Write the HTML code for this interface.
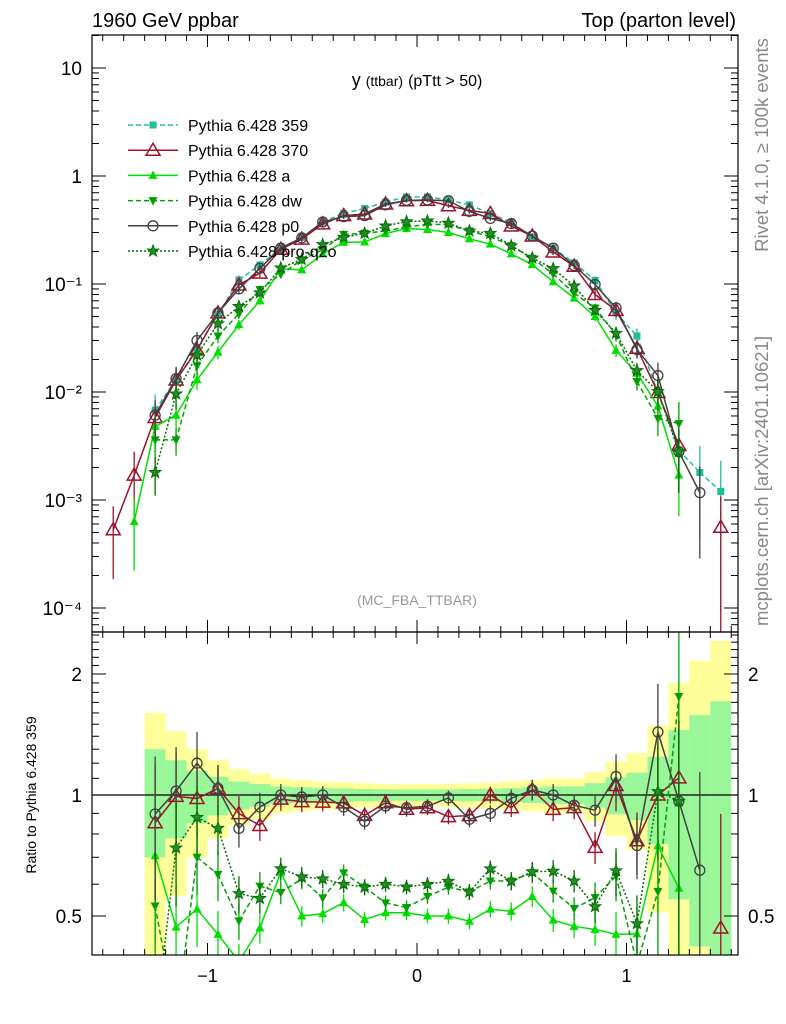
<!DOCTYPE html>
<html><head><meta charset="utf-8"><style>
html,body{margin:0;padding:0;background:#fff;width:786px;height:1024px;overflow:hidden}
svg{display:block;font-family:"Liberation Sans",sans-serif}
</style></head><body>
<svg id="c" width="786" height="1024" viewBox="0 0 786 1024">
<text x="92" y="27" font-size="20">1960 GeV ppbar</text>
<text x="736" y="27" font-size="20" text-anchor="end">Top (parton level)</text>
<text x="417" y="86" font-size="18" text-anchor="middle">y <tspan font-size="14">(ttbar)</tspan> <tspan font-size="16">(pTtt &gt; 50)</tspan></text>
<text x="417" y="605" font-size="14" fill="#999" text-anchor="middle">(MC_FBA_TTBAR)</text>
<text transform="translate(768,145) rotate(-90)" font-size="18.5" fill="#888" text-anchor="middle">Rivet 4.1.0, ≥ 100k events</text>
<text transform="translate(768,481) rotate(-90)" font-size="18.5" fill="#888" text-anchor="middle">mcplots.cern.ch [arXiv:2401.10621]</text>
<text transform="translate(36,795) rotate(-90)" font-size="14" text-anchor="middle">Ratio to Pythia 6.428 359</text>
<g id="bands"></g>
<g id="ticks"></g>
<line x1="92" y1="795" x2="738" y2="795" stroke="#000" stroke-width="1.2"/>
<g id="mainSeries"></g>
<g id="ratioSeries"></g>
<rect x="92" y="35" width="646" height="597" fill="none" stroke="#000" stroke-width="1.2"/>
<rect x="92" y="632" width="646" height="323" fill="none" stroke="#000" stroke-width="1.2"/>
<g id="legend"></g>
</svg>
<script>
const binCenters=[-1.45,-1.35,-1.25,-1.15,-1.05,-0.95,-0.85,-0.75,-0.65,-0.55,-0.45,-0.35,-0.25,-0.15,-0.05,0.05,0.15,0.25,0.35,0.45,0.55,0.65,0.75,0.85,0.95,1.05,1.15,1.25,1.35,1.45];
const ref359=[null,null,0.0068,0.013,0.025,0.052,0.109,0.15,0.215,0.27,0.375,0.45,0.50,0.575,0.64,0.64,0.60,0.54,0.45,0.37,0.27,0.215,0.157,0.108,0.054,0.033,0.0099,0.0029,0.0018,0.0012];
const refRelErr=[0.5,0.5,0.30,0.22,0.15,0.11,0.08,0.065,0.05,0.045,0.04,0.038,0.035,0.033,0.032,0.032,0.033,0.035,0.037,0.04,0.045,0.05,0.05,0.07,0.105,0.135,0.245,0.45,0.58,0.71];
const s370=[0.00053,0.0017,0.0058,0.0129,0.0245,0.054,0.098,0.126,0.21,0.26,0.36,0.43,0.445,0.55,0.59,0.595,0.53,0.48,0.45,0.344,0.278,0.198,0.146,0.080,0.057,0.0254,0.0099,0.0032,null,0.00056];
const sA=[null,0.00063,0.0048,0.0061,0.013,0.0234,0.042,0.070,0.138,0.135,0.19,0.243,0.245,0.293,0.326,0.32,0.30,0.262,0.234,0.19,0.151,0.105,0.074,0.050,0.0243,0.0149,0.0074,0.0017,null,null];
const sDw=[null,null,0.0036,0.0036,0.0175,0.033,0.053,0.089,0.123,0.167,0.208,0.288,0.295,0.31,0.336,0.358,0.354,0.31,0.275,0.226,0.173,0.124,0.082,0.060,0.034,0.0125,0.0057,0.0051,null,null];
const sP0=[null,null,0.0061,0.0133,0.030,0.054,0.090,0.14,0.215,0.267,0.375,0.42,0.43,0.54,0.595,0.60,0.59,0.47,0.405,0.363,0.278,0.215,0.148,0.099,0.060,0.0247,0.0142,0.0028,0.00117,null];
const sQ2o=[null,null,0.0018,0.0096,0.022,0.043,0.062,0.083,0.141,0.169,0.232,0.27,0.295,0.345,0.378,0.384,0.366,0.31,0.295,0.226,0.174,0.139,0.096,0.057,0.035,0.0158,0.0101,0.0028,null,null];
const yTickLabels=["10⁻⁴","10⁻³","10⁻²","10⁻¹","1","10"];
const xTickLabels=["−1","0","1"];
const ratioTickLabels=["0.5","1","2"];

const NS="http://www.w3.org/2000/svg";
const X=c=>417+209.5*c;
const YM=v=>176-108*Math.log10(v);
const YR=r=>795-402*Math.log10(r);
const MAIN=[35,632],RAT=[632,955];
const clampY=(y,R)=>Math.min(R[1],Math.max(R[0],y));
function el(tag,attrs,parent){const e=document.createElementNS(NS,tag);for(const k in attrs)e.setAttribute(k,attrs[k]);parent.appendChild(e);return e;}
function clipSeg(p,q,R){let [x1,y1]=p,[x2,y2]=q;
 if((y1<R[0]&&y2<R[0])||(y1>R[1]&&y2>R[1]))return null;
 const f=(yy)=>x1+(x2-x1)*(yy-y1)/(y2-y1);
 if(y1<R[0]){x1=f(R[0]);y1=R[0];}else if(y1>R[1]){x1=f(R[1]);y1=R[1];}
 if(y2<R[0]){x2=x1+(x2-x1)*0+((q[0]-p[0])*(R[0]-p[1])/(q[1]-p[1])+p[0]-x1);y2=R[0];}
 else if(y2>R[1]){x2=p[0]+(q[0]-p[0])*(R[1]-p[1])/(q[1]-p[1]);y2=R[1];}
 return [[x1,y1],[x2,y2]];}
const ticks=document.getElementById('ticks');
for(let i=-15;i<=15;i++){const c=i/10,x=X(c),maj=(i%10===0),L=maj?12:6;
 [[955,-1],[632,1],[632,-1],[35,1]].forEach(([y,d])=>{const t=el('line',{x1:x,x2:x,y1:y,y2:y+d*L,stroke:'#000'},ticks);});}
[-1,0,1].forEach((c,i)=>{const t=el('text',{x:X(c),y:982,'font-size':18,'text-anchor':'middle'},ticks);t.textContent=xTickLabels[i];});
for(let d=-5;d<=1;d++){for(let m=1;m<10;m++){const v=m*Math.pow(10,d),y=YM(v);if(y<35||y>632)continue;const L=m===1?14:7;
 [[92,1],[738,-1]].forEach(([x,s])=>{const t=el('line',{x1:x,x2:x+s*L,y1:y,y2:y,stroke:'#000'},ticks);});}}
[-4,-3,-2,-1,0,1].forEach((d,i)=>{const t=el('text',{x:82,y:YM(Math.pow(10,d))+7,'font-size':19,'text-anchor':'end'},ticks);t.textContent=yTickLabels[i];});
for(let r=0.4;r<=2.55;r+=0.1){const y=YR(r);if(y<632||y>955)continue;const maj=[0.5,1,2].some(q=>Math.abs(q-r)<0.01),L=maj?14:7;
 [[92,1],[738,-1]].forEach(([x,s])=>{const t=el('line',{x1:x,x2:x+s*L,y1:y,y2:y,stroke:'#000'},ticks);});}
[0.5,1,2].forEach((r,i)=>{[[82,'end'],[748,'start']].forEach(([x,a])=>{const t=el('text',{x:x,y:YR(r)+7,'font-size':19,'text-anchor':a},ticks);t.textContent=ratioTickLabels[i];});});
const bands=document.getElementById('bands');
binCenters.forEach((c,i)=>{if(ref359[i]==null)return;const e=refRelErr[i],x0=X(c-0.05),w=X(c+0.05)-x0;
 const yt=clampY(YR(1+2*e),RAT),ybt=clampY(YR(Math.max(1-2*e,0.01)),RAT);
 const yb=el('rect',{x:x0,y:yt,width:w,height:ybt-yt,fill:'#ffff99'},bands);
 const gt=clampY(YR(1+e),RAT),gbt=clampY(YR(Math.max(1-e,0.01)),RAT);
 const gb=el('rect',{x:x0,y:gt,width:w,height:gbt-gt,fill:'#99f799'},bands);});
function marker(type,x,y,col,g){let m;
 if(type==='sq')m=el('rect',{x:x-3.5,y:y-3.5,width:7,height:7,fill:col},g);
 else if(type==='otri')m=el('polygon',{points:`${x},${y-7} ${x-7},${y+5} ${x+7},${y+5}`,fill:'none',stroke:col,'stroke-width':1.5},g);
 else if(type==='tri')m=el('polygon',{points:`${x},${y-5} ${x-4.5},${y+3.5} ${x+4.5},${y+3.5}`,fill:col},g);
 else if(type==='dtri')m=el('polygon',{points:`${x},${y+5} ${x-4.5},${y-3.5} ${x+4.5},${y-3.5}`,fill:col},g);
 else if(type==='circ')m=el('circle',{cx:x,cy:y,r:5,fill:'none',stroke:col,'stroke-width':1.3},g);
 else{let p=[];for(let k=0;k<10;k++){const a=-Math.PI/2+k*Math.PI/5,r=k%2?2.5:6;p.push((x+r*Math.cos(a)).toFixed(1)+','+(y+r*Math.sin(a)).toFixed(1));}
  m=el('polygon',{points:p.join(' '),fill:'#2a8a2a',stroke:col,'stroke-width':1},g);}
 return m;}
const series=[
 {name:'Pythia 6.428 359',key:'359',data:ref359,col:'#1fbf9a',dash:'5,3',mk:'sq'},
 {name:'Pythia 6.428 370',key:'370',data:s370,col:'#a0102a',dash:'',mk:'otri'},
 {name:'Pythia 6.428 a',key:'a',data:sA,col:'#00e000',dash:'',mk:'tri'},
 {name:'Pythia 6.428 dw',key:'dw',data:sDw,col:'#00a000',dash:'5,3',mk:'dtri'},
 {name:'Pythia 6.428 p0',key:'p0',data:sP0,col:'#404040',dash:'',mk:'circ'},
 {name:'Pythia 6.428 pro-q2o',key:'pro-q2o',data:sQ2o,col:'#007000',dash:'2,2',mk:'star'}];
const mainG=document.getElementById('mainSeries'),ratG=document.getElementById('ratioSeries'),leg=document.getElementById('legend');
function drawLine(pts,s,g,nm,R){for(let i=0;i+1<pts.length;i++){const p=pts[i],q=pts[i+1];if(!p||!q)continue;const sg=clipSeg(p,q,R);if(!sg)continue;
 const l=el('line',{x1:sg[0][0],y1:sg[0][1],x2:sg[1][0],y2:sg[1][1],stroke:s.col,'stroke-width':1.5,'stroke-dasharray':s.dash},g);}}
function errBar(x,y1,y2,col,R,g,nm){const a=clampY(y1,R),b=clampY(y2,R);if(a===b)return;const l=el('line',{x1:x,x2:x,y1:a,y2:b,stroke:col,'stroke-width':1.3},g);}
series.forEach((s,si)=>{
 const mp=s.data.map((v,i)=>v==null?null:[X(binCenters[i]),YM(v)]);
 s.data.forEach((v,i)=>{if(v==null)return;const e=refRelErr[i]*1.3;errBar(X(binCenters[i]),YM(v*(1+e)),YM(Math.max(v*(1-e),1e-6)),s.col,MAIN,mainG,'error-bar-'+s.key);});
 drawLine(mp,s,mainG,'line-'+s.key,MAIN);
 mp.forEach(p=>{if(!p||p[1]<MAIN[0]||p[1]>MAIN[1])return;const m=marker(s.mk,p[0],p[1],s.col,mainG);});
 if(si>0){
  const rp=s.data.map((v,i)=>(v==null||ref359[i]==null)?null:[X(binCenters[i]),YR(v/ref359[i])]);
  s.data.forEach((v,i)=>{if(v==null||ref359[i]==null)return;const r=v/ref359[i],e=refRelErr[i]*1.3;errBar(X(binCenters[i]),YR(r*(1+e)),YR(Math.max(r*(1-e),0.01)),s.col,RAT,ratG,'ratio-error-bar-'+s.key);});
  drawLine(rp,s,ratG,'ratio-line-'+s.key,RAT);
  rp.forEach(p=>{if(!p||p[1]<RAT[0]+4||p[1]>RAT[1]-4)return;const m=marker(s.mk,p[0],p[1],s.col,ratG);});
 }
 const ly=125+si*25.2;
 const g=el('g',{},leg);
 el('line',{x1:128,x2:178,y1:ly,y2:ly,stroke:s.col,'stroke-width':1.5,'stroke-dasharray':s.dash},g);
 marker(s.mk,153,ly,s.col,g);
 const t=el('text',{x:188,y:ly+6,'font-size':16},g);t.textContent=s.name;
});
</script>
</body></html>
